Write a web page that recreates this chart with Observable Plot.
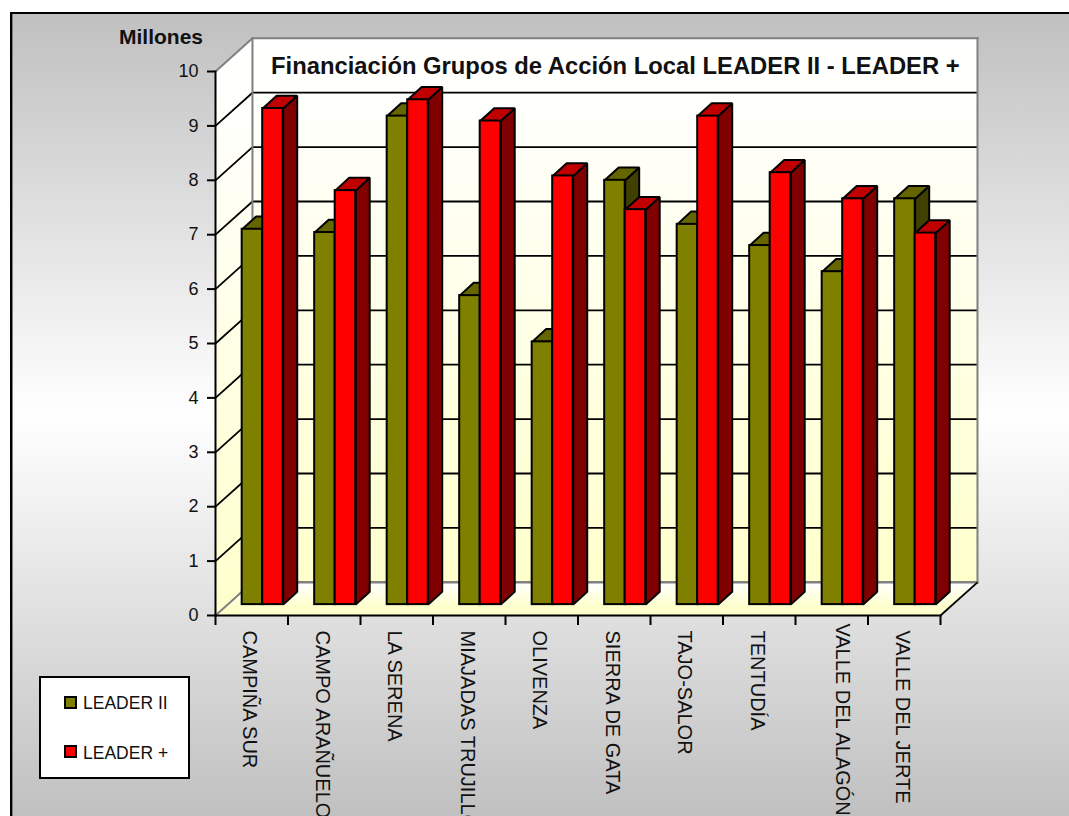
<!DOCTYPE html>
<html lang="es">
<head>
<meta charset="utf-8">
<script src="https://cdn.jsdelivr.net/npm/d3@7"></script>
<script src="https://cdn.jsdelivr.net/npm/@observablehq/plot@0.6"></script>
<style>
html,body{margin:0;padding:0;background:#fff;overflow:hidden;width:1069px;height:816px}
#chart{position:absolute;left:10px;top:12px;width:1059px;height:804px;box-sizing:border-box;
 border-left:2px solid #000;border-top:2px solid #000;box-shadow:inset 1px 0 0 #808080;
 background:linear-gradient(to bottom,#c0c0c0 0%,#ffffff 50%,#c0c0c0 100%)}
#plot{position:absolute;left:0;top:0}
svg{display:block}
.t{position:absolute;font-family:"Liberation Sans",Arial,sans-serif;color:#111;white-space:nowrap}
#title{left:271px;top:53px;font-size:23.8px;font-weight:bold;line-height:26px}
#unit{left:119px;top:27px;font-size:21px;font-weight:bold;line-height:20px}
#legend{position:absolute;left:39px;top:676px;width:151px;height:103px;box-sizing:border-box;background:#fff;border:2px solid #000}
.sw{position:absolute;left:23px;width:13px;height:13px;box-sizing:border-box;border:2px solid #000}
.lt{position:absolute;left:42px;font-family:"Liberation Sans",Arial,sans-serif;font-size:17.5px;line-height:20px;color:#111;white-space:nowrap}
</style>
</head>
<body>
<div id="chart"></div>
<div id="plot"></div>
<div class="t" id="unit">Millones</div>
<div class="t" id="title">Financiación Grupos de Acción Local LEADER II - LEADER +</div>
<div id="legend">
 <div class="sw" style="top:18px;background:#808000"></div><div class="lt" style="top:15px">LEADER II</div>
 <div class="sw" style="top:67px;background:#ff0000"></div><div class="lt" style="top:65px">LEADER +</div>
</div>
<script>
const categories = ["CAMPIÑA SUR","CAMPO ARAÑUELO","LA SERENA","MIAJADAS TRUJILLO","OLIVENZA","SIERRA DE GATA","TAJO-SALOR","TENTUDÍA","VALLE DEL ALAGÓN","VALLE DEL JERTE"];
const leaderII   = [6.90,6.84,8.98,5.68,4.83,7.80,6.99,6.60,6.12,7.46];
const leaderPlus = [9.12,7.61,9.28,8.89,7.88,7.26,8.98,7.94,7.46,6.83];
const yTicks = d3.range(0,11);
const xTicks = d3.range(0,11);

// pseudo-3D projection, in data units
const wallDX = 0.51, wallDY = 0.61;     // depth of the floor
const baseDY = 0.20;                    // bars stand a little way into the floor
const barLeft = 0.368, barW = 0.283;    // offset and width of one bar within a category
const topDX = 0.193, topDY = 0.235;     // depth of a bar
const lift = i => categories[i] === "VALLE DEL ALAGÓN";  // this label sits apart in the original

const poly = (id, pts) => pts.map(([x,y]) => ({id,x,y}));
const bars = (values, k) => values.map((v,i) => {
  const x1 = i + barLeft + k*barW, x2 = x1 + barW, y0 = baseDY, y1 = v + baseDY;
  return {i,x1,x2,y0,y1};
});
const sidePolys = bs => bs.flatMap(b => poly(b.i, [[b.x2,b.y0],[b.x2,b.y1],[b.x2+topDX,b.y1+topDY],[b.x2+topDX,b.y0+topDY]]));
const topPolys  = bs => bs.flatMap(b => poly(b.i, [[b.x1,b.y1],[b.x2,b.y1],[b.x2+topDX,b.y1+topDY],[b.x1+topDX,b.y1+topDY]]));

const oliveBars = bars(leaderII,0), redBars = bars(leaderPlus,1);
const SW = 2;
const face = (rows, fill) => Plot.line(rows,{x:"x",y:"y",z:"id",fill,stroke:"#000",strokeWidth:SW,curve:"linear-closed",strokeLinejoin:"miter"});
const front = (rows, fill) => Plot.rect(rows,{x1:"x1",x2:"x2",y1:"y0",y2:"y1",fill,stroke:"#000",strokeWidth:SW});
const sheet = (pts, fill) => Plot.line(poly(0,pts),{x:"x",y:"y",z:"id",fill,stroke:"none",curve:"linear-closed"});
const seg = (data, opts) => Plot.link(data,{strokeLinecap:"square",...opts});

const defs = () => {
  const d = d3.create("svg:defs");
  const g = (id, stops) => {
    const lg = d.append("linearGradient").attr("id",id).attr("x1",0).attr("x2",0).attr("y1",0).attr("y2",1);
    stops.forEach(([o,c]) => lg.append("stop").attr("offset",o).attr("stop-color",c));
  };
  g("wallGrad",[[0,"#ffffff"],[0.15,"#fffffb"],[1,"#ffffcc"]]);
  g("floorGrad",[[0,"#ffffff"],[0.75,"#ffffcc"],[1,"#ffffcc"]]);
  return d.node();
};

const inner = yTicks.filter(v => v>0 && v<10);
const plot = Plot.plot({
  width:1069, height:816,
  marginLeft:215, marginRight:129, marginTop:71, marginBottom:201,
  x:{domain:[0,10]},
  y:{domain:[0,10]},
  style:{background:"transparent",fontFamily:"'Liberation Sans',Arial,sans-serif",overflow:"visible"},
  marks:[
    defs,
    sheet([[0,10],[wallDX,10+wallDY],[wallDX,wallDY],[0,0]],"url(#wallGrad)"),
    sheet([[wallDX,10+wallDY],[10+wallDX,10+wallDY],[10+wallDX,wallDY],[wallDX,wallDY]],"url(#wallGrad)"),
    sheet([[0,0],[wallDX,wallDY],[10+wallDX,wallDY],[10,0]],"url(#floorGrad)"),
    // grid
    seg(inner,{x1:()=>wallDX,x2:()=>10+wallDX,y1:v=>v+wallDY,y2:v=>v+wallDY,stroke:"#000",strokeWidth:1.8,strokeLinecap:"butt"}),
    seg(inner,{x1:()=>0,x2:()=>wallDX,y1:v=>v,y2:v=>v+wallDY,stroke:"#000",strokeWidth:1.8,strokeLinecap:"butt"}),
    // wall outlines
    seg([0],{x1:()=>wallDX,x2:()=>wallDX,y1:()=>wallDY,y2:()=>10+wallDY,stroke:"#808080",strokeWidth:2}),
    seg([0],{x1:()=>wallDX,x2:()=>10+wallDX,y1:()=>10+wallDY,y2:()=>10+wallDY,stroke:"#808080",strokeWidth:2}),
    seg([0],{x1:()=>10+wallDX,x2:()=>10+wallDX,y1:()=>wallDY,y2:()=>10+wallDY,stroke:"#808080",strokeWidth:2}),
    seg([0],{x1:()=>wallDX,x2:()=>10+wallDX,y1:()=>wallDY,y2:()=>wallDY,stroke:"#808080",strokeWidth:2.4}),
    seg([0],{x1:()=>0,x2:()=>wallDX,y1:()=>10,y2:()=>10+wallDY,stroke:"#808080",strokeWidth:2,strokeLinecap:"butt"}),
    seg([0],{x1:()=>0,x2:()=>wallDX,y1:()=>0,y2:()=>wallDY,stroke:"#808080",strokeWidth:2,strokeLinecap:"butt"}),
    seg([0],{x1:()=>10,x2:()=>10+wallDX,y1:()=>0,y2:()=>wallDY,stroke:"#000",strokeWidth:1.8,strokeLinecap:"butt"}),
    // bars
    face(sidePolys(oliveBars),"#404000"),
    face(topPolys(oliveBars),"#666600"),
    face(sidePolys(redBars),"#800000"),
    face(topPolys(redBars),"#c00000"),
    front(oliveBars,"#808000"),
    front(redBars,"#ff0000"),
    // axes
    seg([0],{x1:()=>0,x2:()=>0,y1:()=>0,y2:()=>10,stroke:"#000",strokeWidth:2}),
    seg([0],{x1:()=>0,x2:()=>10,y1:()=>0,y2:()=>0,stroke:"#000",strokeWidth:2}),
    Plot.axisY({anchor:"left",ticks:yTicks,tickSize:8,tickPadding:9,fontSize:18,strokeWidth:2,stroke:"#000",fill:"#111",label:null,tickFormat:d3.format("d")}),
    Plot.axisX({anchor:"bottom",ticks:xTicks,tickSize:10,tickFormat:()=>"",strokeWidth:2,stroke:"#000",label:null}),
    Plot.text(categories,{x:(d,i)=>i+0.5+(lift(i)?0.18:0),y:(d,i)=>lift(i)?0.13:0,text:d=>d,rotate:90,textAnchor:"start",lineAnchor:"middle",dx:-2,dy:15,fontSize:20,fill:"#111"})
  ]
});
document.getElementById("plot").appendChild(plot);
</script>
</body>
</html>
